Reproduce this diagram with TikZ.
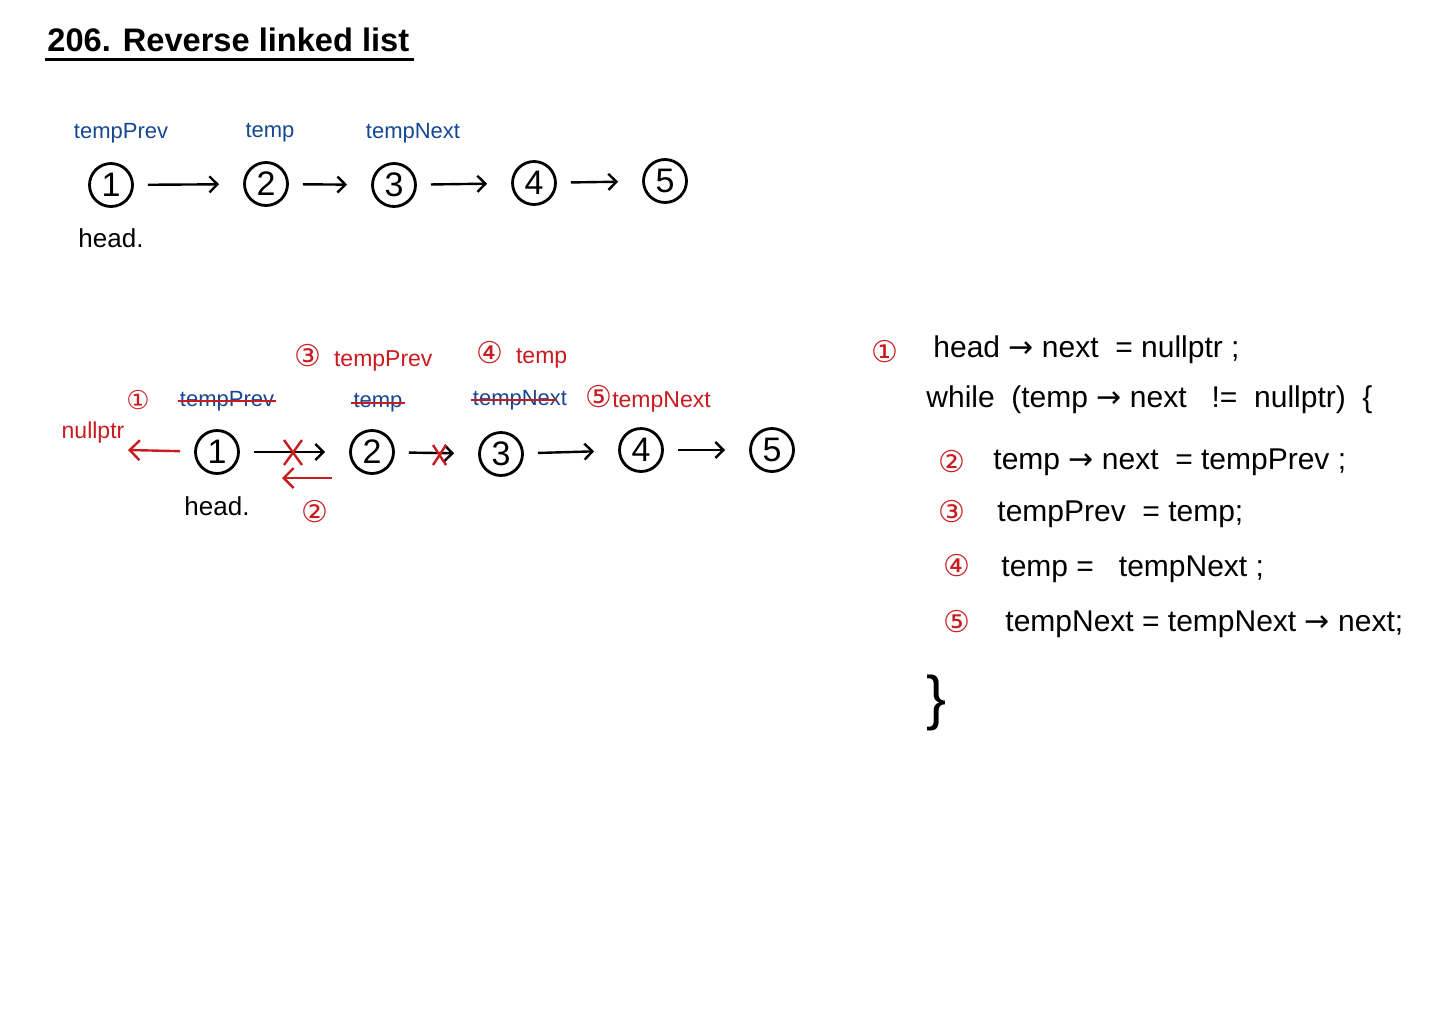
\documentclass[tikz,border=0pt]{standalone}
\usepackage{fontspec}
\setmainfont{Liberation Sans}
\newfontfamily\symf{DejaVu Sans}
\newcommand{\rarrow}{{\symf →}}
\newcommand{\circnum}[1]{{\symf\fontsize{15}{15}\selectfont #1}}
\usetikzlibrary{arrows.meta,calc}
\definecolor{pblue}{RGB}{22,72,145}
\definecolor{pred}{RGB}{200,28,32}
\begin{document}
\begin{tikzpicture}[x=0.5pt,y=-0.5pt,
  lnode/.style={circle,draw,line width=1.4pt,minimum size=21.5pt,inner sep=0pt,font=\fontsize{17}{17}\selectfont},
  arr/.style={line width=1.2pt,-{Straight Barb[length=4pt,width=8pt]},shorten <=7pt,shorten >=12pt},
  rarr/.style={pred,line width=1.2pt,-{Straight Barb[length=5pt,width=10pt]}},
  bl/.style={text=pblue,font=\fontsize{11}{13}\selectfont,inner sep=1pt},
  rl/.style={text=pred,font=\fontsize{11.5}{13}\selectfont,inner sep=1pt},
  strike/.style={pred,line width=1.1pt},
  numm/.style={text=pred,font=\symf\fontsize{15}{15}\selectfont,inner sep=0pt},
  codetxt/.style={font=\fontsize{15}{17}\selectfont,anchor=west,inner sep=0pt},
  redx/.style={pred,line width=1.2pt}]
\useasboundingbox (0,0) rectangle (1440,1018);
\fill[white] (0,0) rectangle (1440,1018);

% title
\node[anchor=south west,inner sep=0pt,font=\bfseries\fontsize{16.3}{18}\selectfont] (title) at (47,52) {206. Reverse linked list};
\draw[line width=1.5pt] (45,59) -- (414,59);

% top list
\node[lnode] (a1) at (111,185) {1};
\node[lnode] (a2) at (266,184) {2};
\node[lnode] (a3) at (394,185) {3};
\node[lnode] (a4) at (534,183) {4};
\node[lnode] (a5) at (665,181) {5};
\draw[arr] (a1) -- (a2);
\draw[arr] (a2) -- (a3);
\draw[arr] (a3) -- (a4);
\draw[arr] (a4) -- (a5);
\node[bl] (tp1) at (121,133) {tempPrev};
\node[bl] (t1) at (270,133) {temp};
\node[bl] (tn1) at (413,133) {tempNext};
\node[font=\fontsize{13}{15}\selectfont] (h1) at (111,238) {head.};

% bottom list
\node[lnode] (b1) at (217,452) {1};
\node[lnode] (b2) at (372,452) {2};
\node[lnode] (b3) at (501,454) {3};
\node[lnode] (b4) at (641,450) {4};
\node[lnode] (b5) at (772,450) {5};
\draw[arr] (b1) -- (b2);
\draw[arr] (b2) -- (b3);
\draw[arr] (b3) -- (b4);
\draw[arr] (b4) -- (b5);
% red crosses
\draw[redx] (284,440) -- (302,465) (302,440) -- (284,465);
\draw[redx] (433,445) -- (446,465) (446,445) -- (433,465);
% reversed arrow
\coordinate (r2s) at (332,478);
\coordinate (r2e) at (282,478);
\draw[rarr] (r2s) -- (r2e);
% nullptr
\node[rl] (np) at (93,433) {nullptr};
\coordinate (npe) at (128,450);
\draw[rarr,shorten <=7pt] (b1) -- (npe);
\node[font=\fontsize{13}{15}\selectfont] (h2) at (217,506) {head.};
\node[numm] (s2) at (315,512) {②};
\node[numm,font=\symf\fontsize{13}{13}\selectfont] (s1) at (138,400) {①};

% struck labels
\node[bl] (tp2) at (227,401) {tempPrev};
\draw[strike] (tp2.west) -- (tp2.east);
\node[bl] (t2) at (378,403) {temp};
\draw[strike] (t2.west) -- (t2.east);
\node[bl] (tn2) at (520,400) {tempNext};
\draw[strike] (tn2.west) -- ([xshift=-6pt]tn2.east);
\node[rl,anchor=west] (tn3) at (583,399) {\circnum{⑤}tempNext};
\node[rl,anchor=west] (tp3) at (292,358) {\circnum{③}\ \ tempPrev};
\node[rl,anchor=west] (t3) at (474,355) {\circnum{④}\ \ temp};

% code
\node[numm] (c1) at (885,352) {①};
\node[codetxt] (l1) at (933,350) {head \rarrow{} next\ \ = nullptr ;};
\node[codetxt] (l2) at (926,400) {while\ \ (temp \rarrow{} next\ \ \ != \ nullptr)\ \ \{};
\node[numm] (c2) at (952,462) {②};
\node[codetxt] (l3) at (993,462) {temp \rarrow{} next\ \ = tempPrev ;};
\node[numm] (c3) at (952,512) {③};
\node[codetxt] (l4) at (997,514) {tempPrev\ \ = temp;};
\node[numm] (c4) at (957,566) {④};
\node[codetxt] (l5) at (1001,569) {temp =\ \ \ tempNext ;};
\node[numm] (c5) at (957,622) {⑤};
\node[codetxt] (l6) at (1005,624) {tempNext = tempNext \rarrow{} next;};
\node[font=\fontsize{30}{30}\selectfont,inner sep=0pt] (cb) at (937,703) {\}};
\end{tikzpicture}
\end{document}
